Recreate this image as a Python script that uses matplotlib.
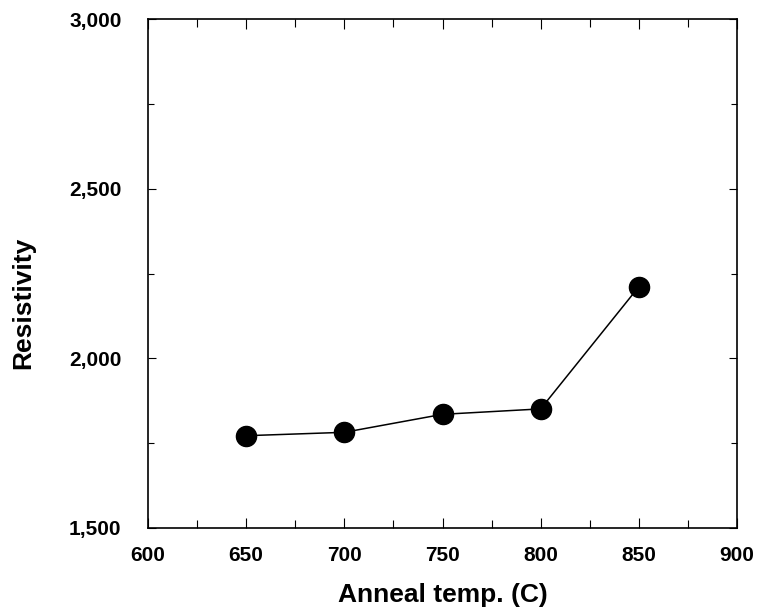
import matplotlib
matplotlib.use("Agg")
import matplotlib.pyplot as plt
from matplotlib.ticker import MultipleLocator, FuncFormatter

temps = [650, 700, 750, 800, 850]
resistivity = [1772, 1782, 1835, 1851, 2211]

plt.rcParams['font.family'] = ['Liberation Sans', 'DejaVu Sans']
plt.rcParams['font.weight'] = 'bold'

fig = plt.figure(figsize=(7.57, 6.16), dpi=100)
ax = fig.add_axes([148/757, 88/616, 589/757, 509/616])
ax.plot(temps, resistivity, color='black', linewidth=1.1, marker='o',
        markersize=14.5, markerfacecolor='black', markeredgecolor='black')
ax.set_xlim(600, 900)
ax.set_ylim(1500, 3000)
ax.xaxis.set_major_locator(MultipleLocator(50))
ax.xaxis.set_minor_locator(MultipleLocator(25))
ax.yaxis.set_major_locator(MultipleLocator(500))
ax.yaxis.set_minor_locator(MultipleLocator(250))
ax.yaxis.set_major_formatter(FuncFormatter(lambda v, p: f"{int(v):,}"))
ax.tick_params(which='both', direction='in', top=True, right=True, width=0.8)
ax.tick_params(axis='x', which='major', length=7, labelsize=15, pad=13)
ax.tick_params(axis='x', which='minor', length=6)
ax.tick_params(axis='y', which='major', length=6, labelsize=15, pad=19)
ax.tick_params(axis='y', which='minor', length=4)
for lab in ax.get_xticklabels() + ax.get_yticklabels():
    lab.set_fontweight('bold')
for s in ax.spines.values():
    s.set_linewidth(1.2)
ax.set_xlabel('Anneal temp. (C)', fontsize=19, fontweight='bold', va='center')
ax.xaxis.set_label_coords(0.5, (528 - 595) / 509)
ax.set_ylabel('Resistivity', fontsize=19, fontweight='bold', va='center', ha='center')
ax.yaxis.set_label_coords((23 - 148) / 589, 0.442)
fig.savefig('out.png', dpi=100)
